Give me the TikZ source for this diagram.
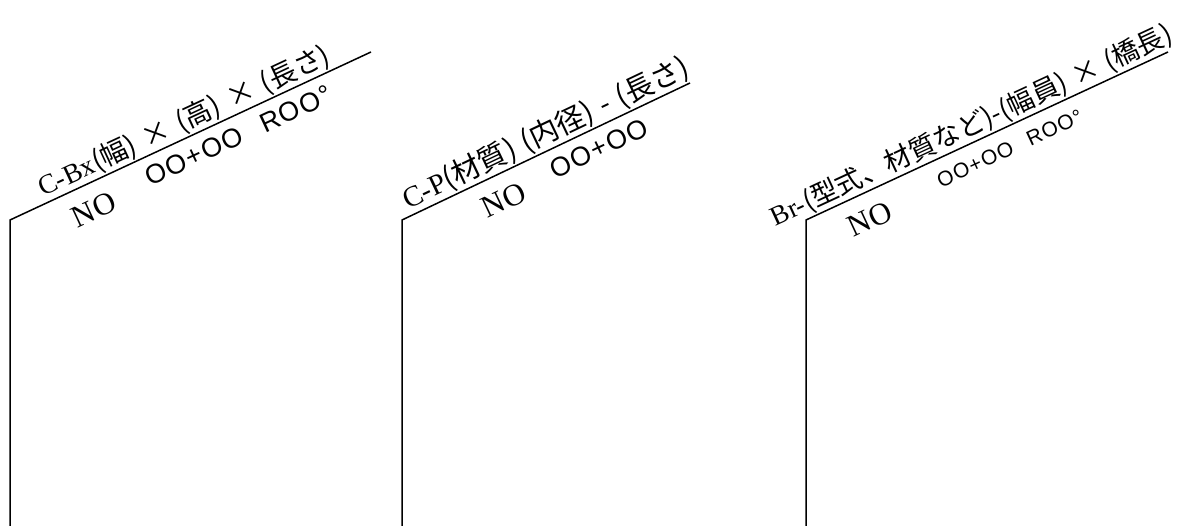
\documentclass[tikz,border=0pt]{standalone}
\usepackage{fontspec}
\setmainfont{Liberation Serif}
\newfontfamily\jp{Noto Sans CJK JP}
\newfontfamily\gsans[LetterSpace=5]{Liberation Sans}
\usetikzlibrary{calc}
\newcommand\xsp{\hspace{0.35em}}
\newcommand\psp{\hspace{0.3em}}
\tikzset{
  leader/.style={line width=1.5pt, line join=miter},
  lbl/.style={inner sep=0pt, outer sep=0pt, anchor=base west},
  uptext/.style={lbl, font=\fontsize{#1}{#1}\selectfont},
  notext/.style={lbl, font=\fontsize{31}{31}\selectfont},
  sta/.style={lbl, font=\gsans\fontsize{#1}{#1}\selectfont},
}
\begin{document}
\begin{tikzpicture}[x=1pt,y=1pt]
\useasboundingbox (0,0) rectangle (1183,526);
% group 1
\coordinate (b1) at (10,0);
\coordinate (c1) at (10,306);
\coordinate (e1) at (371,474);
\draw[leader] (b1) -- (c1) -- (e1);
\node[uptext=27.5, rotate=24.95] (u1) at ($(c1)!40pt!(e1)!7pt!90:(e1)$)
  {C-Bx{\jp (幅)\xsp×\xsp(高)\xsp×\xsp(長さ)}};
\node[notext, rotate=24.95] (n1) at ($(c1)!58pt!(e1)!36pt!-90:(e1)$) {NO};
\node[sta=27, rotate=24.95] (s1) at ($(c1)!141pt!(e1)!29pt!-90:(e1)$) {OO+OO\hspace{0.8em}ROO°};
% group 2
\coordinate (b2) at (402,0);
\coordinate (c2) at (402,306);
\coordinate (e2) at (690,443);
\draw[leader] (b2) -- (c2) -- (e2);
\node[uptext=29, rotate=25.44] (u2) at ($(c2)!10pt!(e2)!7pt!90:(e2)$)
  {C-P{\jp (材質)\psp(内径)\psp-\psp(長さ)}};
\node[notext, rotate=25.44] (n2) at ($(c2)!78pt!(e2)!36pt!-90:(e2)$) {NO};
\node[sta=27, rotate=25.44] (s2) at ($(c2)!156pt!(e2)!29pt!-90:(e2)$) {OO+OO};
% group 3
\coordinate (b3) at (806,0);
\coordinate (c3) at (806,306);
\coordinate (e3) at (1168,474);
\draw[leader] (b3) -- (c3) -- (e3);
\node[uptext=27, rotate=24.9] (u3) at ($(c3)!-30pt!(e3)!7pt!90:(e3)$)
  {Br-{\jp (型式、材質など)-(幅員)\psp×\psp(橋長)}};
\node[notext, rotate=24.9] (n3) at ($(c3)!36pt!(e3)!36pt!-90:(e3)$) {NO};
\node[sta=21, rotate=24.9] (s3) at ($(c3)!136pt!(e3)!28pt!-90:(e3)$) {OO+OO\hspace{0.8em}ROO°};
\end{tikzpicture}
\end{document}
